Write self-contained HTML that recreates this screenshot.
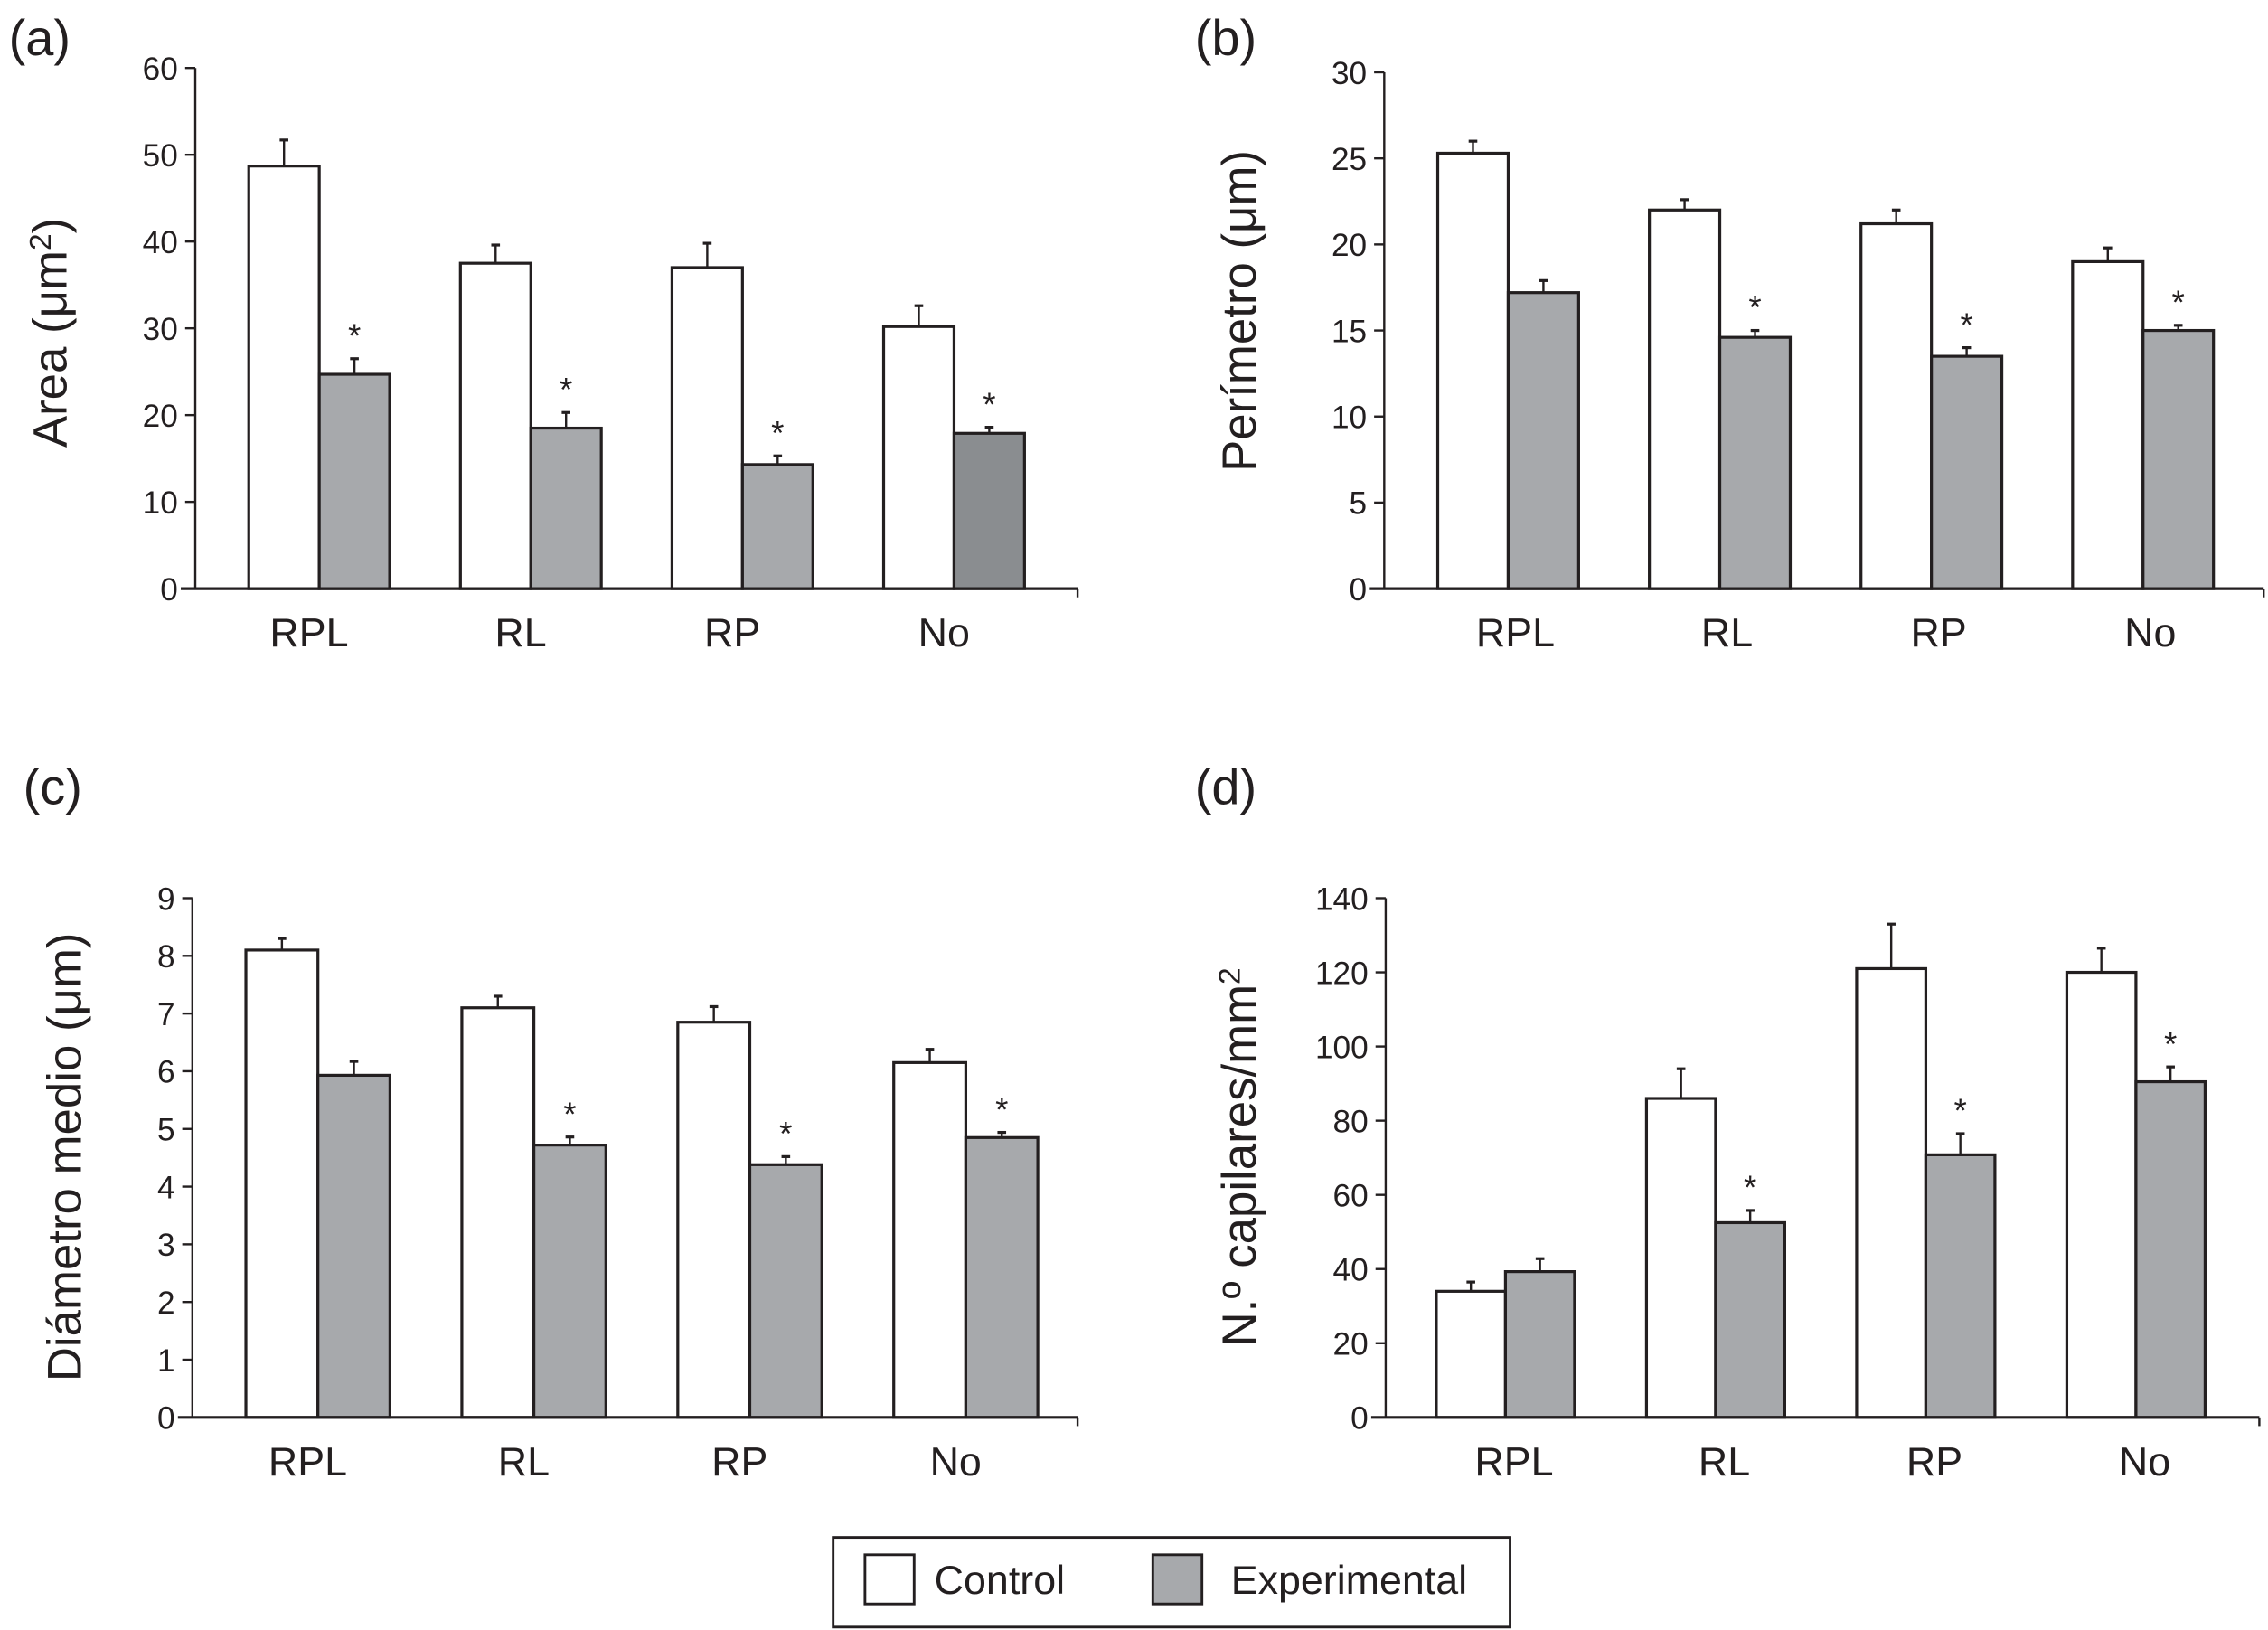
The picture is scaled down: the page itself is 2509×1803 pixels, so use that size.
<!DOCTYPE html>
<html><head><meta charset="utf-8"><style>
html,body{margin:0;padding:0;background:#fff;}
svg{display:block;}
text{font-family:"Liberation Sans",sans-serif;fill:#231f20;}
</style></head><body>
<svg id="fig" width="2509" height="1803" viewBox="0 0 1568 1127" preserveAspectRatio="none" xmlns="http://www.w3.org/2000/svg">
</svg>
<script>
const categories = ["RPL","RL","RP","No"];
// Panel a
const aControl = [48.7, 37.5, 37.0, 30.2];
const aControlErr = [51.7, 39.6, 39.8, 32.6];
const aExp = [24.7, 18.5, 14.3, 17.9];
const aExpErr = [26.5, 20.3, 15.3, 18.6];
const aStars = [true, true, true, true];
const aTicks = [0,10,20,30,40,50,60];
// Panel b
const bControl = [25.3, 22.0, 21.2, 19.0];
const bControlErr = [26.0, 22.6, 22.0, 19.8];
const bExp = [17.2, 14.6, 13.5, 15.0];
const bExpErr = [17.9, 15.0, 14.0, 15.3];
const bStars = [false, true, true, true];
const bTicks = [0,5,10,15,20,25,30];
// Panel c
const cControl = [8.1, 7.1, 6.85, 6.15];
const cControlErr = [8.3, 7.3, 7.12, 6.38];
const cExp = [5.93, 4.72, 4.38, 4.85];
const cExpErr = [6.17, 4.86, 4.52, 4.94];
const cStars = [false, true, true, true];
const cTicks = [0,1,2,3,4,5,6,7,8,9];
// Panel d
const dControl = [34, 86, 121, 120];
const dControlErr = [36.5, 94, 133, 126.5];
const dExp = [39.3, 52.5, 70.8, 90.5];
const dExpErr = [42.8, 55.8, 76.5, 94.5];
const dStars = [false, true, true, true];
const dTicks = [0,20,40,60,80,100,120,140];

const NS = "http://www.w3.org/2000/svg";
const svg = document.getElementById('fig');
function mk(tag, attrs, parent){ const e=document.createElementNS(NS,tag); for(const k in attrs) e.setAttribute(k,attrs[k]); (parent||svg).appendChild(e); return e; }

function panel(id, o){
  const g = mk('g',{});
  
  
  const max = o.ticks[o.ticks.length-1];
  const y = v => o.y0 - (v/max)*(o.y0-o.yTop);
  const x = i => o.x0 + i*o.gap;
  const lab = mk('text',{x:o.lx,y:o.ly,'font-size':35},g); lab.textContent='('+id+')';
  
  
  for(let i=0;i<categories.length;i++){
    const bx = x(i);
    const pairs = [[o.control[i],o.controlErr[i],'#fff',bx],[o.exp[i],o.expErr[i],(o.darkLast&&i===3)?'#8a8d90':'#a7a9ac',bx+o.bw]];
    pairs.forEach((p,j)=>{
      const cx = p[3]+o.bw/2;
      const el = mk('line',{x1:cx,x2:cx,y1:y(p[0]),y2:y(p[1]),stroke:'#231f20','stroke-width':1.5},g);
      
      
      const cap = mk('line',{x1:cx-3,x2:cx+3,y1:y(p[1]),y2:y(p[1]),stroke:'#231f20','stroke-width':2},g);
      
      
      const r = mk('rect',{x:p[3],y:y(p[0]),width:o.bw,height:o.y0-y(p[0]),fill:p[2],stroke:'#231f20','stroke-width':2},g);
      
      
    });
    if(o.stars[i]){
      const s = mk('text',{x:bx+o.bw*1.5,y:y(o.expErr[i])-8,'font-size':23,'text-anchor':'middle'},g); s.textContent='*';
      
      
    }
    const t = mk('text',{x:bx+o.bw+o.lo,y:o.y0+40,'font-size':28,'text-anchor':'middle'},g); t.textContent=categories[i];
    
    
  }
  const ya = mk('line',{x1:o.ax,x2:o.ax,y1:o.yTop,y2:o.y0,stroke:'#231f20','stroke-width':1.5},g);
  
  
  const xa = mk('line',{x1:o.ax-10,x2:o.xEnd,y1:o.y0,y2:o.y0,stroke:'#231f20','stroke-width':2},g);
  
  
  mk('line',{x1:o.xEnd,x2:o.xEnd,y1:o.y0,y2:o.y0+6,stroke:'#231f20','stroke-width':1.5},g);
  o.ticks.forEach(v=>{
    mk('line',{x1:o.ax-7,x2:o.ax,y1:y(v),y2:y(v),stroke:'#231f20','stroke-width':1.5},g);
    const t = mk('text',{x:o.ax-12,y:y(v)+8,'font-size':22,'text-anchor':'end'},g); t.textContent=v;
    
    
  });
  const yt = mk('text',{x:0,y:0,'font-size':33,'text-anchor':'middle',transform:`translate(${o.tx},${o.ty}) rotate(-90)`},g);
  yt.innerHTML = o.title;
  
  
}

panel('a',{control:aControl,controlErr:aControlErr,exp:aExp,expErr:aExpErr,stars:aStars,ticks:aTicks,
  ax:135,y0:407,yTop:47,x0:172,gap:146.3,bw:48.7,xEnd:745,lx:6,ly:38,tx:46,ty:230,darkLast:true,lo:-7,
  title:'Area (μm<tspan dy="-11" font-size="21">2</tspan><tspan dy="11">)</tspan>'});
panel('b',{control:bControl,controlErr:bControlErr,exp:bExp,expErr:bExpErr,stars:bStars,ticks:bTicks,
  ax:957,y0:407,yTop:50,x0:994,gap:146.3,bw:48.7,xEnd:1565,lx:826,ly:38,tx:868,ty:215,lo:5,
  title:'Perímetro (μm)'});
panel('c',{control:cControl,controlErr:cControlErr,exp:cExp,expErr:cExpErr,stars:cStars,ticks:cTicks,
  ax:133,y0:980,yTop:621,x0:170,gap:149.3,bw:49.8,xEnd:745,lx:16,ly:556,tx:56,ty:800,lo:-7,
  title:'Diámetro medio (μm)'});
panel('d',{control:dControl,controlErr:dControlErr,exp:dExp,expErr:dExpErr,stars:dStars,ticks:dTicks,
  ax:958,y0:980,yTop:621,x0:993,gap:145.3,bw:47.8,xEnd:1562,lx:826,ly:556,tx:868,ty:800,lo:6,
  title:'N.º capilares/mm<tspan dy="-11" font-size="21">2</tspan>'});

const lg = mk('g',{});


mk('rect',{x:576,y:1063,width:468,height:62,fill:'#fff',stroke:'#231f20','stroke-width':1.8},lg);
const s1 = mk('rect',{x:598,y:1075,width:34,height:34,fill:'#fff',stroke:'#231f20','stroke-width':1.8},lg);


const t1 = mk('text',{x:646,y:1102,'font-size':28},lg); t1.textContent='Control';


const s2 = mk('rect',{x:797,y:1075,width:34,height:34,fill:'#a7a9ac',stroke:'#231f20','stroke-width':1.8},lg);


const t2 = mk('text',{x:851,y:1102,'font-size':28},lg); t2.textContent='Experimental';


</script>
</body></html>
